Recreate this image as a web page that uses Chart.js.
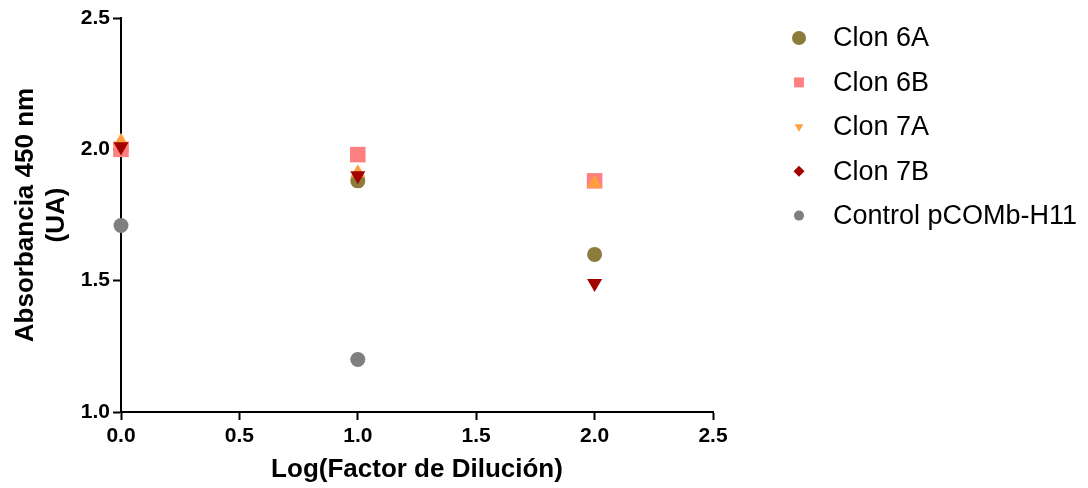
<!DOCTYPE html>
<html>
<head>
<meta charset="utf-8">
<title>Absorbancia vs Log(Factor de Dilución)</title>
<script src="https://cdn.jsdelivr.net/npm/chart.js@4/dist/chart.umd.min.js"></script>
<style>
  html, body { margin: 0; padding: 0; background: #ffffff; }
  #wrap { position: relative; width: 1088px; height: 488px; }
</style>
</head>
<body>
<div id="wrap"><canvas id="chart" width="1088" height="488"></canvas></div>
<script>
// Log(dilution factor) at which each clone was measured
const logDilution = [0, 1, 2];

// Absorbance at 450 nm (UA) per clone
const clon6A = [2.00, 1.88, 1.60];
const clon6B = [2.00, 1.98, 1.88];
const clon7A = [2.03, 1.91, 1.87];
const clon7B = [2.01, 1.90, 1.49];
const controlH11 = [1.71, 1.20, null];

const seriesNames = ['Clon 6A', 'Clon 6B', 'Clon 7A', 'Clon 7B', 'Control pCOMb-H11'];

// Axis tick values
const xTickValues = [0.0, 0.5, 1.0, 1.5, 2.0, 2.5];
const yTickValues = [1.0, 1.5, 2.0, 2.5];

const FONT = "'Liberation Sans', Arial, Helvetica, sans-serif";

function toPoints(values) {
  const pts = [];
  logDilution.forEach((x, i) => {
    if (values[i] !== null && values[i] !== undefined) pts.push({ x: x, y: values[i] });
  });
  return pts;
}

// Marker look in the plot and in the legend
const styles = [
  { color: '#8c7b3b', plot: { style: 'circle', radius: 7.5, rotation: 0 }, key: { style: 'circle', radius: 7, rotation: 0 } },
  { color: '#ff8080', plot: { style: 'rect', radius: 11, rotation: 0 }, key: { style: 'rect', radius: 7, rotation: 0 } },
  { color: '#ff9f40', plot: { style: 'triangle', radius: 8.7, rotation: 0 }, key: { style: 'triangle', radius: 5, rotation: 180 } },
  { color: '#a30000', plot: { style: 'triangle', radius: 8.7, rotation: 180 }, key: { style: 'rectRot', radius: 5.5, rotation: 0 } },
  { color: '#7f7f7f', plot: { style: 'circle', radius: 7.5, rotation: 0 }, key: { style: 'circle', radius: 5, rotation: 0 } }
];

const seriesValues = [clon6A, clon6B, clon7A, clon7B, controlH11];
// later series are painted above earlier ones
const drawOrder = [5, 4, 3, 2, 1];

const datasets = seriesValues.map((vals, i) => ({
  label: seriesNames[i],
  data: toPoints(vals),
  order: drawOrder[i],
  clip: false,
  showLine: false,
  pointStyle: styles[i].plot.style,
  pointRadius: styles[i].plot.radius,
  pointHoverRadius: styles[i].plot.radius,
  pointRotation: styles[i].plot.rotation,
  backgroundColor: styles[i].color,
  borderColor: styles[i].color,
  pointBorderWidth: 0
}));

// Key listing the series to the right of the plot
const seriesKey = {
  id: 'seriesKey',
  afterDraw(chart) {
    const ctx = chart.ctx;
    const markerX = 799;
    const textX = 833;
    const firstY = 38;
    const rowGap = 44.4;
    ctx.save();
    chart.data.datasets.forEach((ds, i) => {
      const y = firstY + i * rowGap;
      const k = styles[i].key;
      ctx.fillStyle = styles[i].color;
      ctx.strokeStyle = styles[i].color;
      Chart.helpers.drawPoint(ctx, { pointStyle: k.style, radius: k.radius, rotation: k.rotation, borderWidth: 0 }, markerX, y);
      ctx.fillStyle = '#000000';
      ctx.font = '27px ' + FONT;
      ctx.textAlign = 'left';
      ctx.textBaseline = 'middle';
      ctx.fillText(ds.label, textX, y + 1);
    });
    ctx.restore();
  }
};

new Chart(document.getElementById('chart'), {
  type: 'scatter',
  data: { datasets: datasets },
  plugins: [seriesKey],
  options: {
    responsive: false,
    animation: false,
    events: [],
    layout: { padding: { top: 18, right: 375, bottom: 0, left: 0 } },
    plugins: {
      legend: { display: false },
      tooltip: { enabled: false }
    },
    scales: {
      x: {
        type: 'linear',
        min: 0,
        max: 2.5,
        afterBuildTicks(scale) { scale.ticks = xTickValues.map(v => ({ value: v })); },
        afterFit(scale) { scale.height = 76; },
        border: { display: true, color: '#000000', width: 2 },
        grid: { display: true, drawOnChartArea: false, drawTicks: true, tickLength: 8, tickWidth: 2, tickColor: '#000000' },
        ticks: {
          color: '#000000',
          padding: 4,
          maxRotation: 0,
          font: { family: FONT, size: 21, weight: 'bold' },
          callback: v => Number(v).toFixed(1)
        },
        title: {
          display: true,
          text: 'Log(Factor de Dilución)',
          color: '#000000',
          font: { family: FONT, size: 26, weight: 'bold' },
          padding: { top: 0, bottom: 3 }
        }
      },
      y: {
        type: 'linear',
        min: 1.0,
        max: 2.5,
        afterBuildTicks(scale) { scale.ticks = yTickValues.map(v => ({ value: v })); },
        afterFit(scale) { scale.width = 121; },
        border: { display: true, color: '#000000', width: 2 },
        grid: { display: true, drawOnChartArea: false, drawTicks: true, tickLength: 8, tickWidth: 2, tickColor: '#000000' },
        ticks: {
          color: '#000000',
          padding: 3,
          font: { family: FONT, size: 21, weight: 'bold' },
          callback: v => Number(v).toFixed(1)
        },
        title: {
          display: true,
          text: ['Absorbancia 450 nm', '(UA)'],
          color: '#000000',
          font: { family: FONT, size: 26, weight: 'bold' },
          padding: { top: 10, bottom: 0 }
        }
      }
    }
  }
});
</script>
</body>
</html>
